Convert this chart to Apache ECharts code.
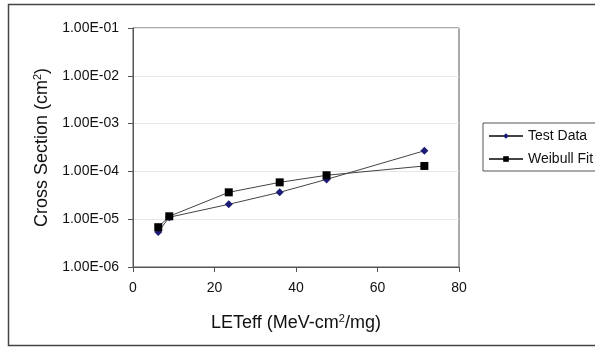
<!DOCTYPE html>
<html>
<head>
<meta charset="utf-8">
<script src="https://cdn.jsdelivr.net/npm/echarts@6/dist/echarts.min.js"></script>
<style>
  html, body { margin: 0; padding: 0; background: #fff; }
  #main { width: 595px; height: 347px; }
</style>
</head>
<body>
<div id="main"></div>
<script>
// LET values and cross sections
const testLet = [6.2, 8.9, 23.5, 36, 47.5, 71.5];
const testXs = [5.4e-6, 1.1e-5, 2.05e-5, 3.65e-5, 6.8e-5, 2.7e-4];
const fitLet = [6.2, 8.9, 23.5, 36, 47.5, 71.5];
const fitXs = [6.8e-6, 1.15e-5, 3.65e-5, 5.9e-5, 8.3e-5, 1.3e-4];
const seriesNames = ['Test Data', 'Weibull Fit'];

const chart = echarts.init(document.getElementById('main'));
const font = 'Liberation Sans, Arial, sans-serif';

function fmtExp(v) {
  const e = Math.round(Math.log10(v));
  const m = v / Math.pow(10, e);
  const sign = e < 0 ? '-' : '+';
  const abs = Math.abs(e);
  return m.toFixed(2) + 'E' + sign + (abs < 10 ? '0' + abs : abs);
}

const supStyle = { fontSize: 11, verticalAlign: 'top', padding: [0, 0, 9, 0], color: '#111' };

const option = {
  animation: false,
  textStyle: { fontFamily: font },
  graphic: [{
    type: 'rect',
    shape: { x: 8.5, y: 4.5, width: 600, height: 341 },
    style: { fill: 'none', stroke: '#444', lineWidth: 1.5 },
    z: -1
  }],
  grid: {
    left: 133, top: 28, right: 136, bottom: 80,
    show: true, borderColor: '#555', borderWidth: 1
  },
  legend: {
    left: 483, top: 123,
    orient: 'vertical',
    itemGap: 9,
    itemWidth: 34, itemHeight: 7,
    padding: [6, 20, 5, 5],
    borderColor: '#555', borderWidth: 1,
    textStyle: { fontSize: 14, color: '#111', fontFamily: font },
    data: seriesNames
  },
  xAxis: {
    type: 'value',
    min: 0, max: 80, interval: 20,
    name: 'LETeff (MeV-cm{sup|2}/mg)',
    nameLocation: 'middle', nameGap: 46,
    nameTextStyle: {
      fontSize: 18, color: '#111', fontFamily: font,
      rich: { sup: supStyle }
    },
    axisLine: { lineStyle: { color: '#555' } },
    axisTick: { show: true, length: 5, lineStyle: { color: '#555' } },
    axisLabel: { fontSize: 14, color: '#111', margin: 14 },
    splitLine: { show: false }
  },
  yAxis: {
    type: 'log',
    logBase: 10,
    min: 1e-6, max: 1e-1,
    name: 'Cross Section (cm{sup|2})',
    nameLocation: 'middle', nameGap: 78, nameRotate: 90,
    nameTextStyle: {
      fontSize: 18, color: '#111', fontFamily: font,
      rich: { sup: supStyle }
    },
    axisLine: { show: true, lineStyle: { color: '#555' } },
    axisTick: { show: true, length: 5, lineStyle: { color: '#555' } },
    axisLabel: { fontSize: 14, color: '#111', margin: 14, formatter: fmtExp },
    splitLine: { show: true, lineStyle: { color: '#e6e6e6' } },
    minorTick: { show: false }
  },
  series: [{
    name: seriesNames[0],
    type: 'line',
    data: testLet.map((x, i) => [x, testXs[i]]),
    symbol: 'diamond', symbolSize: 8,
    itemStyle: { color: '#1c1c78' },
    lineStyle: { color: '#444', width: 1 }
  }, {
    name: seriesNames[1],
    type: 'line',
    data: fitLet.map((x, i) => [x, fitXs[i]]),
    symbol: 'rect', symbolSize: 8,
    itemStyle: { color: '#000' },
    lineStyle: { color: '#444', width: 1 }
  }]
};
chart.setOption(option);
</script>
</body>
</html>
